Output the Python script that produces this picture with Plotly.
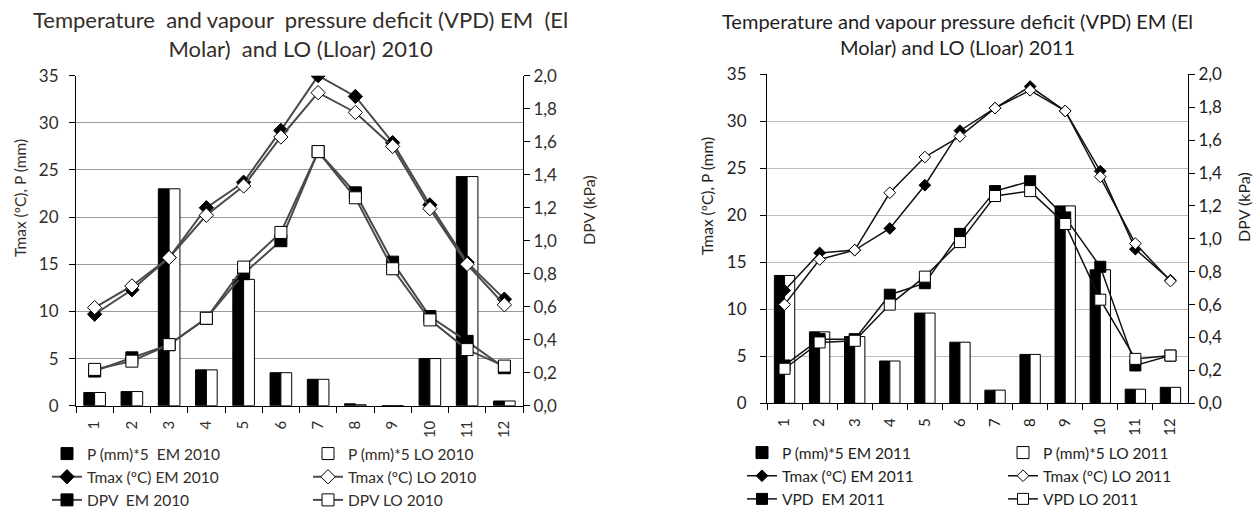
import plotly.graph_objects as go

months = [str(m) for m in range(1, 13)]

# 2010 — El Molar (EM) and Lloar (LO)
p_em_2010 = [1.4, 1.5, 23.0, 3.8, 13.4, 3.5, 2.8, 0.2, 0.0, 5.0, 24.3, 0.5]
p_lo_2010 = [1.4, 1.5, 23.0, 3.8, 13.4, 3.5, 2.8, 0.1, 0.0, 5.0, 24.3, 0.5]
tmax_em_2010 = [9.7, 12.3, 15.7, 21.0, 23.7, 29.2, 35.0, 32.8, 27.9, 21.3, 15.2, 11.3]
tmax_lo_2010 = [10.4, 12.7, 15.7, 20.2, 23.3, 28.5, 33.2, 31.1, 27.5, 20.9, 15.0, 10.7]
dpv_em_2010 = [0.21, 0.29, 0.37, 0.53, 0.80, 1.00, 1.54, 1.29, 0.87, 0.54, 0.39, 0.23]
dpv_lo_2010 = [0.22, 0.27, 0.37, 0.53, 0.84, 1.05, 1.54, 1.26, 0.83, 0.52, 0.34, 0.24]

# 2011
p_em_2011 = [13.6, 7.6, 7.1, 4.5, 9.6, 6.5, 1.4, 5.2, 21.0, 14.2, 1.5, 1.7]
p_lo_2011 = [13.6, 7.6, 7.1, 4.5, 9.6, 6.5, 1.4, 5.2, 21.0, 14.2, 1.5, 1.7]
tmax_em_2011 = [12.0, 16.0, 16.3, 18.6, 23.2, 29.0, 31.4, 33.7, 31.1, 24.7, 16.4, 13.1]
tmax_lo_2011 = [10.5, 15.3, 16.3, 22.4, 26.2, 28.4, 31.4, 33.3, 31.1, 24.1, 17.0, 13.0]
vpd_em_2011 = [0.23, 0.39, 0.39, 0.66, 0.73, 1.03, 1.29, 1.35, 1.13, 0.83, 0.23, 0.29]
vpd_lo_2011 = [0.21, 0.37, 0.38, 0.60, 0.77, 0.98, 1.26, 1.29, 1.09, 0.63, 0.27, 0.29]

FONT = "Lato"
C_LEFT = "#332d27"
C_RIGHT = "#1e1e1e"

W, H = 1257, 510
BAR_W = 0.29  # width of one bar, in category units


def px_x(x):
    return x / W


def px_y(y):
    return 1 - y / H


fig = go.Figure()


def add_panel(xa, ya, ya2, leg_a, leg_b, p_em, p_lo, t_em, t_lo, d_em, d_lo,
              year, dlabel, line_col, line_w, dsize, ssize, em_gap):
    fig.add_trace(go.Bar(x=months, y=p_em, name=f"P (mm)*5{em_gap}EM {year}",
                         width=BAR_W, offset=-BAR_W,
                         marker=dict(color="black", line=dict(color="black", width=1)),
                         xaxis=xa, yaxis=ya, legend=leg_a))
    fig.add_trace(go.Bar(x=months, y=p_lo, name=f"P (mm)*5 LO {year}",
                         width=BAR_W, offset=0,
                         marker=dict(color="white", line=dict(color="black", width=1)),
                         xaxis=xa, yaxis=ya, legend=leg_b))
    fig.add_trace(go.Scatter(x=months, y=t_em, name=f"Tmax (ºC) EM {year}",
                             mode="lines+markers",
                             line=dict(color=line_col, width=line_w),
                             marker=dict(symbol="diamond", size=dsize, color="black",
                                         line=dict(color="black", width=1)),
                             xaxis=xa, yaxis=ya, legend=leg_a))
    fig.add_trace(go.Scatter(x=months, y=t_lo, name=f"Tmax (ºC) LO {year}",
                             mode="lines+markers",
                             line=dict(color=line_col, width=line_w),
                             marker=dict(symbol="diamond", size=dsize, color="white",
                                         line=dict(color="black", width=1)),
                             xaxis=xa, yaxis=ya, legend=leg_b))
    fig.add_trace(go.Scatter(x=months, y=d_em, name=f"{dlabel}  EM {year}",
                             mode="lines+markers",
                             line=dict(color=line_col, width=line_w),
                             marker=dict(symbol="square", size=ssize, color="black",
                                         line=dict(color="black", width=1)),
                             xaxis=xa, yaxis=ya2, legend=leg_a))
    fig.add_trace(go.Scatter(x=months, y=d_lo, name=f"{dlabel} LO {year}",
                             mode="lines+markers",
                             line=dict(color=line_col, width=line_w),
                             marker=dict(symbol="square", size=ssize, color="white",
                                         line=dict(color="black", width=1)),
                             xaxis=xa, yaxis=ya2, legend=leg_b))


add_panel("x", "y", "y2", "legend", "legend2",
          p_em_2010, p_lo_2010, tmax_em_2010, tmax_lo_2010, dpv_em_2010, dpv_lo_2010,
          2010, "DPV", "#4a4a4a", 2, 11, 12, "  ")
add_panel("x2", "y3", "y4", "legend3", "legend4",
          p_em_2011, p_lo_2011, tmax_em_2011, tmax_lo_2011, vpd_em_2011, vpd_lo_2011,
          2011, "VPD", "#111111", 1.5, 9, 11, " ")


def xaxis(domain, anchor, color):
    return dict(domain=domain, anchor=anchor, type="category",
                range=[-0.5, len(months) - 0.5], autorange=False,
                showline=True, linecolor="black", linewidth=1,
                ticks="outside", tickson="boundaries", ticklen=6, tickcolor="black",
                tickangle=-90, showgrid=False, ticklabelstandoff=8, automargin=False,
                tickfont=dict(family=FONT, size=15, color=color))


def yaxis_left(domain, anchor, color, gridcolor, standoff):
    return dict(domain=domain, anchor=anchor, range=[0, 35], dtick=5,
                showline=True, linecolor="black", linewidth=1,
                ticks="outside", ticklen=6, tickcolor="black",
                showgrid=True, gridcolor=gridcolor, gridwidth=1, zeroline=False,
                ticklabelstandoff=standoff, automargin=False,
                tickfont=dict(family=FONT, size=17, color=color))


def yaxis_right(overlay, anchor, color):
    return dict(overlaying=overlay, anchor=anchor, side="right", range=[0, 2.0],
                dtick=0.2, tickformat=".1f",
                showline=True, linecolor="black", linewidth=1,
                ticks="outside", ticklen=6, tickcolor="black",
                showgrid=False, zeroline=False, automargin=False,
                tickfont=dict(family=FONT, size=17, color=color))


def legend(x, y, size, color):
    return dict(x=px_x(x), y=px_y(y), xanchor="left", yanchor="top",
                orientation="v", bgcolor="rgba(0,0,0,0)", borderwidth=0,
                font=dict(family=FONT, size=size, color=color),
                itemclick=False, itemdoubleclick=False)


fig.update_layout(
    width=W, height=H,
    margin=dict(l=0, r=0, t=0, b=0, autoexpand=False),
    paper_bgcolor="white", plot_bgcolor="white",
    separators=",.",
    barmode="overlay",
    font=dict(family=FONT, color=C_LEFT),
    showlegend=True,
    xaxis=xaxis([px_x(76), px_x(523)], "y", C_LEFT),
    yaxis=yaxis_left([px_y(405.7), px_y(75.7)], "x", C_LEFT, "#9a9a9a", 7),
    yaxis2=yaxis_right("y", "x", C_LEFT),
    xaxis2=xaxis([px_x(767), px_x(1188)], "y3", C_RIGHT),
    yaxis3=yaxis_left([px_y(403.3), px_y(74.3)], "x2", C_RIGHT, "#bdbdbd", 10),
    yaxis4=yaxis_right("y3", "x2", C_RIGHT),
    legend=legend(47, 437, 15.5, C_LEFT),
    legend2=legend(308, 437, 15.5, C_LEFT),
    legend3=legend(742, 436, 15.5, C_RIGHT),
    legend4=legend(1003, 436, 15.5, C_RIGHT),
)

annotations = [
    # panel titles
    dict(x=px_x(300), y=px_y(34),
         text="Temperature  and vapour  pressure deficit (VPD) EM  (El<br>Molar)  and LO (Lloar) 2010",
         font=dict(size=22, color=C_LEFT)),
    dict(x=px_x(957), y=px_y(34.5),
         text="Temperature and vapour pressure deficit (VPD) EM (El<br>Molar) and LO (Lloar) 2011",
         font=dict(size=20, color=C_RIGHT)),
    # axis titles
    dict(x=px_x(20), y=px_y(198), text="Tmax (ºC), P (mm)", textangle=-90,
         font=dict(size=15.5, color=C_LEFT)),
    dict(x=px_x(588), y=px_y(210), text="DPV (kPa)", textangle=-90,
         font=dict(size=16, color=C_LEFT)),
    dict(x=px_x(707), y=px_y(196), text="Tmax (ºC), P (mm)", textangle=-90,
         font=dict(size=15.5, color=C_RIGHT)),
    dict(x=px_x(1243), y=px_y(207), text="DPV (kPa)", textangle=-90,
         font=dict(size=16, color=C_RIGHT)),
]
for a in annotations:
    a.update(xref="paper", yref="paper", showarrow=False, xanchor="center", yanchor="middle")
    a["font"]["family"] = FONT
fig.update_layout(annotations=annotations)

fig.write_html("out.html")
